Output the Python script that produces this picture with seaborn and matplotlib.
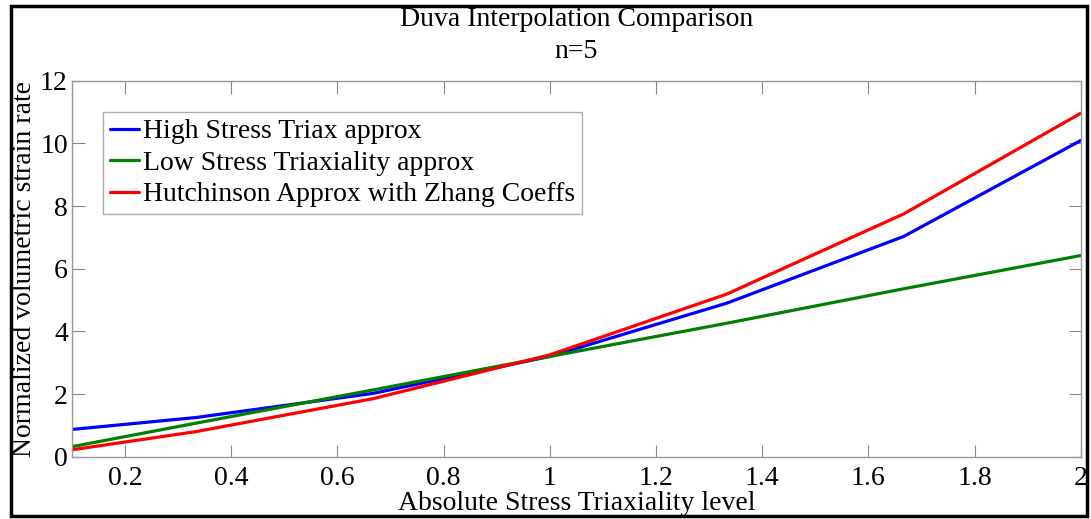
import numpy as np
import pandas as pd
import matplotlib
matplotlib.use("Agg")
import matplotlib.pyplot as plt
from matplotlib.patches import Rectangle
from matplotlib.ticker import FormatStrFormatter
import seaborn as sns

# Triaxiality levels and the three approximations of the volumetric strain rate
triaxiality = [0.1, 1 / 3, 2 / 3, 1.0, 4 / 3, 5 / 3, 2.0]
high_triax = [0.87, 1.25, 2.02, 3.20, 4.90, 7.03, 10.09]
low_triax = [0.32, 1.07, 2.13, 3.20, 4.26, 5.36, 6.42]
hutchinson = [0.22, 0.80, 1.85, 3.25, 5.19, 7.75, 10.96]

series_names = [
    "High Stress Triax approx",
    "Low Stress Triaxiality approx",
    "Hutchinson Approx with Zhang Coeffs",
]
series_colors = ["#0000ff", "#008000", "#ff0000"]

x_ticks = [0.2, 0.4, 0.6, 0.8, 1.0, 1.2, 1.4, 1.6, 1.8, 2.0]
y_ticks = [0, 2, 4, 6, 8, 10, 12]

df = pd.concat(
    [
        pd.DataFrame({"x": triaxiality, "y": vals, "series": name})
        for name, vals in zip(series_names, [high_triax, low_triax, hutchinson])
    ],
    ignore_index=True,
)

sns.set_theme(style="white")
plt.rcParams["font.family"] = ["Liberation Serif", "DejaVu Serif"]

FS = 20

fig = plt.figure(figsize=(10.91, 5.19), dpi=100)
ax = fig.add_axes([72 / 1091, 1 - 456.7 / 519, 1008.7 / 1091, 376 / 519])

sns.lineplot(
    data=df, x="x", y="y", hue="series", hue_order=series_names,
    palette=dict(zip(series_names, series_colors)), linewidth=2.3,
    sort=False, ax=ax, legend=True,
)

ax.set_xlim(0.1, 2.0)
ax.set_ylim(0, 12)
ax.set_xticks(x_ticks)
ax.set_yticks(y_ticks)
ax.xaxis.set_major_formatter(FormatStrFormatter("%g"))
ax.yaxis.set_major_formatter(FormatStrFormatter("%g"))
ax.tick_params(axis="both", which="major", direction="in", length=9, width=0.8,
               color="#888888", labelsize=FS, labelcolor="black",
               top=True, right=True, bottom=True, left=True)
ax.tick_params(axis="x", pad=7)
ax.tick_params(axis="y", pad=3)
for sp in ax.spines.values():
    sp.set_color("#999999")
    sp.set_linewidth(1.0)

ax.set_xlabel("Absolute Stress Triaxiality level", fontsize=FS, labelpad=0,
              color="black")
ax.set_ylabel("Normalized volumetric strain rate", fontsize=FS, labelpad=2,
              color="black")
ax.set_title("Duva Interpolation Comparison\nn=5", fontsize=FS,
             linespacing=1.38, pad=16, color="black")

leg = ax.legend(loc="upper left", bbox_to_anchor=(0.0307, 0.917),
                borderaxespad=0, fontsize=FS, frameon=True, fancybox=False,
                handlelength=1.05, handletextpad=0.15, labelspacing=0.22,
                borderpad=0.25)
leg.get_frame().set_edgecolor("#999999")
leg.get_frame().set_linewidth(1.0)
for t in leg.get_texts():
    t.set_color("black")

# Black frame around the whole figure
fig.patches.append(Rectangle((11 / 1091, 3 / 519), 1076 / 1091, 510 / 519,
                             transform=fig.transFigure, fill=False,
                             edgecolor="black", linewidth=2.5, zorder=10))

fig.savefig("out.png", dpi=100)
